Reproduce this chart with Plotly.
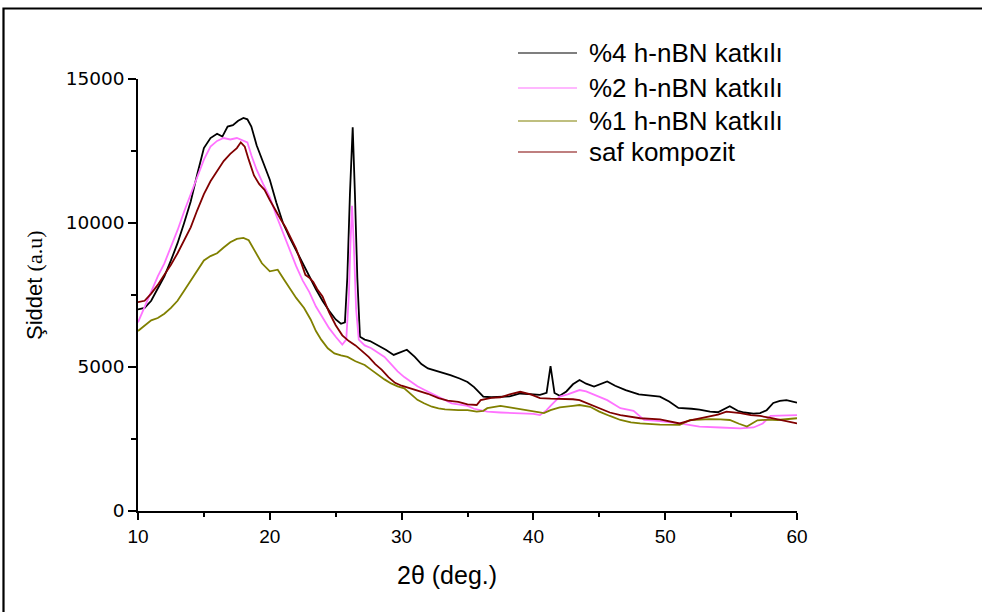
import plotly.graph_objects as go

# ---------------- data ----------------
x_4 = [10, 10.5, 11, 11.5, 12, 12.5, 13, 13.5, 14, 14.5, 15, 15.5, 16, 16.4, 16.8, 17.2, 17.6, 18.0,
       18.3, 18.6, 19.0, 19.5, 20.0, 20.5, 21.0, 21.5, 22.0, 22.5, 23.0, 23.5, 24.0, 24.5, 25.0, 25.4,
       25.7, 25.88, 26.08, 26.29, 26.46, 26.64, 26.84, 27.2, 27.6, 28.2, 28.8, 29.4, 29.8, 30.4, 31.0,
       31.5, 32.0, 32.8, 33.7, 34.4, 35.0, 35.5, 36.2, 36.8, 37.5, 38.2, 39.0, 39.8, 40.5, 41.0, 41.3,
       41.6, 42.0, 42.5, 43.0, 43.5, 44.0, 44.6, 45.0, 45.6, 46.2, 47.0, 48.0, 49.0, 49.6, 50.3, 51.0,
       52.0, 52.6, 53.4, 54.0, 54.9, 55.5, 56.0, 56.7, 57.2, 57.7, 58.2, 58.7, 59.2, 59.6, 60.0]
y_4 = [7000, 7050, 7300, 7700, 8150, 8700, 9300, 10000, 10750, 11700, 12600, 12950, 13100, 13000,
       13350, 13400, 13550, 13650, 13600, 13350, 12700, 12100, 11500, 10700, 10000, 9500, 9050, 8600,
       8100, 7700, 7300, 6950, 6650, 6500, 6550, 8100, 11000, 13320, 11000, 8100, 6050, 5950, 5900,
       5750, 5600, 5420, 5500, 5600, 5350, 5100, 4950, 4850, 4720, 4600, 4480, 4300, 3970, 3950, 3970,
       3980, 4080, 4050, 4030, 4100, 5030, 4100, 4000, 4150, 4400, 4550, 4420, 4320, 4400, 4500, 4350,
       4200, 4050, 4000, 3970, 3800, 3580, 3550, 3520, 3450, 3430, 3640, 3480, 3420, 3380, 3400, 3500,
       3750, 3820, 3850, 3800, 3760]

x_2 = [10, 10.5, 11, 11.5, 12, 12.5, 13, 13.5, 14, 14.5, 15, 15.5, 16, 16.5, 17, 17.5, 18.0, 18.3,
       18.6, 19.0, 19.5, 20.0, 20.5, 21.0, 21.5, 22.0, 22.5, 23.0, 23.5, 24.0, 24.5, 25.0, 25.5, 25.8,
       26.0, 26.12, 26.24, 26.37, 26.55, 26.75, 27.2, 27.7, 28.2, 28.7, 29.2, 29.7, 30.2, 30.7, 31.2,
       31.75, 32.3, 32.8, 33.3, 33.8, 34.3, 35.0, 35.5, 36.5, 37.5, 38.7, 40.0, 40.5, 41.0, 41.3, 42.0,
       42.6, 43.5, 44.0, 44.6, 45.6, 46.6, 47.6, 48.4, 49.6, 51.1, 52.6, 54.2, 55.7, 56.7, 57.4, 58.0,
       59.2, 60.0]
y_2 = [6550, 7100, 7650, 8150, 8600, 9150, 9750, 10400, 11000, 11650, 12200, 12650, 12850, 12950,
       12900, 12950, 12850, 12800, 12350, 11850, 11350, 10900, 10250, 9650, 9100, 8500, 8000, 7600,
       7100, 6700, 6350, 6050, 5780, 5950, 7500, 9300, 10600, 9300, 7000, 5950, 5750, 5650, 5500, 5350,
       5100, 4850, 4650, 4480, 4330, 4200, 4080, 3970, 3850, 3740, 3700, 3650, 3550, 3450, 3420, 3390,
       3370, 3330, 3500, 3650, 3970, 4050, 4200, 4150, 4030, 3850, 3570, 3480, 3160, 3120, 3040, 2930,
       2900, 2870, 2900, 3040, 3300, 3330, 3330]

x_1 = [10, 10.5, 11, 11.5, 12, 12.5, 13, 13.5, 14, 14.5, 15, 15.5, 16, 16.5, 17, 17.5, 18.0, 18.4,
       18.85, 19.4, 20.0, 20.6, 21.1, 21.5, 22.0, 22.6, 23.1, 23.5, 23.9, 24.4, 24.9, 25.4, 25.9, 26.5,
       27.2, 27.7, 28.2, 28.7, 29.2, 29.7, 30.2, 30.7, 31.2, 31.7, 32.3, 32.8, 33.3, 34.3, 35.0, 35.7,
       36.2, 36.5, 37.5, 38.2, 39.0, 40.0, 40.8, 41.3, 42.0, 43.0, 43.5, 44.3, 45.0, 45.8, 46.6, 47.4,
       48.1, 49.6, 50.5, 51.1, 51.9, 52.6, 53.4, 54.2, 54.9, 55.6, 56.2, 57.0, 57.8, 58.5, 59.3, 60.0]
y_1 = [6250, 6450, 6620, 6700, 6850, 7050, 7300, 7650, 8000, 8350, 8700, 8850, 8950, 9150, 9330,
       9450, 9480, 9400, 9060, 8600, 8320, 8380, 8020, 7750, 7400, 7050, 6650, 6250, 5950, 5650, 5470,
       5400, 5350, 5200, 5070, 4900, 4720, 4570, 4430, 4330, 4260, 4050, 3860, 3740, 3620, 3560, 3530,
       3500, 3500, 3450, 3480, 3570, 3650, 3600, 3540, 3450, 3400, 3500, 3600, 3650, 3680, 3620, 3450,
       3300, 3160, 3080, 3040, 3000, 2990, 2990, 3160, 3180, 3190, 3180, 3160, 3030, 2930, 3150, 3170,
       3160, 3180, 3220]

x_0 = [10, 10.5, 11, 11.5, 12, 12.5, 13, 13.5, 14, 14.5, 15, 15.5, 16, 16.5, 17, 17.5, 17.8, 18.1,
       18.4, 18.8, 19.2, 19.6, 20.0, 20.4, 20.8, 21.2, 21.6, 22.0, 22.4, 22.7, 23.0, 23.3, 23.6, 24.0,
       24.5, 25.0, 25.5, 26.0, 26.5, 27.0, 27.5, 28.0, 28.5, 29.0, 29.5, 30.0, 30.5, 31.2, 32.0, 32.8,
       33.5, 34.3, 35.0, 35.7, 36.0, 36.8, 37.5, 38.2, 39.0, 39.8, 40.5, 41.3, 42.0, 43.0, 43.5, 44.3,
       45.0, 45.8, 46.6, 47.4, 48.1, 49.6, 50.5, 51.1, 51.9, 53.1, 54.0, 54.65, 55.7, 56.5, 57.2, 58.0,
       58.7, 59.4, 60.0]
y_0 = [7250, 7300, 7550, 7850, 8200, 8550, 8950, 9400, 9850, 10450, 11000, 11450, 11800, 12150,
       12400, 12600, 12800, 12650, 12200, 11650, 11350, 11150, 10800, 10450, 10150, 9850, 9450, 9100,
       8600, 8200, 8100, 7950, 7700, 7450, 6900, 6450, 6100, 5900, 5750, 5550, 5350, 5100, 4900, 4650,
       4450, 4350, 4280, 4200, 4070, 3920, 3830, 3790, 3700, 3680, 3850, 3930, 3950, 4050, 4140, 4050,
       3920, 3900, 3900, 3880, 3850, 3700, 3560, 3420, 3330, 3260, 3220, 3180, 3100, 3040, 3150, 3250,
       3350, 3450, 3400, 3330, 3300, 3230, 3160, 3080, 3040]

series_names = ["%4 h-nBN katkılı", "%2 h-nBN katkılı", "%1 h-nBN katkılı", "saf kompozit"]
series_x = [x_4, x_2, x_1, x_0]
series_y = [y_4, y_2, y_1, y_0]
series_colors = ["#000000", "#FF73FF", "#808000", "#800000"]

x_ticks = [10, 20, 30, 40, 50, 60]
y_ticks = [0, 5000, 10000, 15000]

# ---------------- figure ----------------
fig = go.Figure()
for name, xs, ys, col in zip(series_names, series_x, series_y, series_colors):
    fig.add_trace(go.Scatter(x=xs, y=ys, mode="lines", name=name,
                             line=dict(color=col, width=1.8), showlegend=False))

# manual legend (line sample + label), placed in paper coordinates
leg_rows = [1.0602, 0.9792, 0.9028, 0.8310]
for name, col, yy in zip(series_names, series_colors, leg_rows):
    fig.add_shape(type="line", xref="paper", yref="paper", x0=0.5766, x1=0.6662, y0=yy, y1=yy,
                  line=dict(color=col, width=1.1))
    fig.add_annotation(xref="paper", yref="paper", x=0.6813, y=yy, text=name, showarrow=False,
                       xanchor="left", yanchor="middle",
                       font=dict(family="Liberation Sans, Arial", size=26, color="black"))

# outer frame
fig.add_shape(type="rect", xref="paper", yref="paper", x0=-0.2041, x1=1.35, y0=-0.3, y1=1.1632,
              line=dict(color="black", width=2.2), fillcolor="rgba(0,0,0,0)", layer="above")

# axis titles
fig.add_annotation(xref="paper", yref="paper", x=0.469, y=-0.148, text="2θ (deg.)", showarrow=False,
                   xanchor="center", yanchor="middle",
                   font=dict(family="Liberation Sans, Arial", size=25, color="black"))
fig.add_annotation(xref="paper", yref="paper", x=-0.158, y=0.523,
                   text="Şiddet <span style=\"font-family:'Liberation Serif'\">(a.u)</span>",
                   showarrow=False, textangle=-90, xanchor="center", yanchor="middle",
                   font=dict(family="Liberation Sans, Arial", size=22, color="black"))

fig.update_layout(
    width=982, height=612,
    margin=dict(l=138, r=185, t=79, b=101),
    paper_bgcolor="white", plot_bgcolor="white",
    showlegend=False,
    font=dict(family="Liberation Sans, Arial", color="black"),
)
fig.update_xaxes(range=[10, 60], tickvals=x_ticks, ticktext=[str(v) for v in x_ticks],
                 showline=True, linecolor="black", linewidth=1.5, mirror=False,
                 ticks="outside", ticklen=7, tickwidth=1.5, tickcolor="black",
                 minor=dict(dtick=5, tick0=10, ticks="outside", ticklen=4, tickwidth=1.5, tickcolor="black"),
                 showgrid=False, zeroline=False,
                 tickfont=dict(family="Liberation Sans, Arial", size=19, color="black"))
fig.update_yaxes(range=[0, 15000], tickvals=y_ticks, ticktext=[str(v) for v in y_ticks],
                 showline=True, linecolor="black", linewidth=1.5, mirror=False,
                 ticks="outside", ticklen=8, tickwidth=1.5, tickcolor="black",
                 minor=dict(dtick=2500, tick0=0, ticks="outside", ticklen=5, tickwidth=1.5, tickcolor="black"),
                 showgrid=False, zeroline=False,
                 tickfont=dict(family="DejaVu Sans", size=18.5, color="black"))

fig.write_html("out.html", config={"displayModeBar": False},
               post_script="document.body.style.margin='0';document.body.style.overflow='hidden';")
